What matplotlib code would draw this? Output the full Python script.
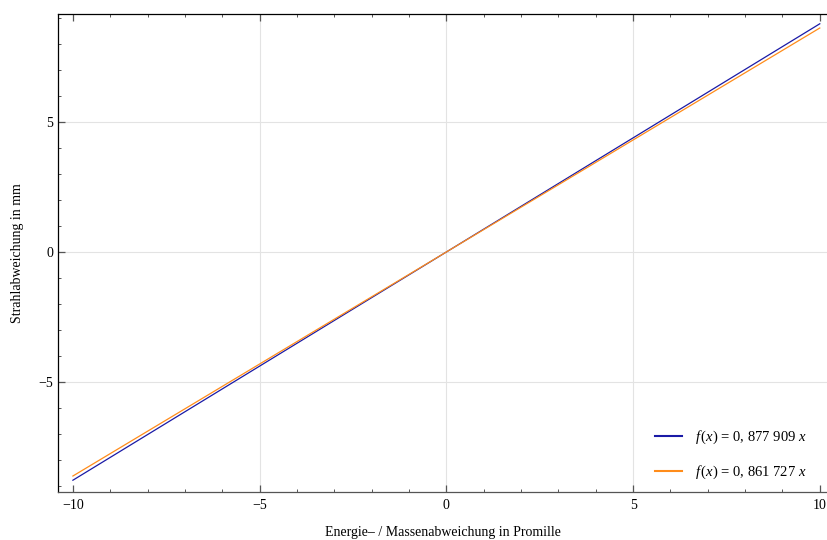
import numpy as np
import matplotlib
matplotlib.use("Agg")
import matplotlib.pyplot as plt
from matplotlib.ticker import MultipleLocator, FuncFormatter

plt.rcParams["font.family"] = ["Liberation Serif", "DejaVu Serif"]
plt.rcParams["mathtext.fontset"] = "custom"
plt.rcParams["mathtext.rm"] = "Liberation Serif"
plt.rcParams["mathtext.it"] = "Liberation Serif:italic"

# fit slopes
slopes = [0.877909, 0.861727]
labels = [r"$f\,(x)$ = 0, 877 909 $x$", r"$f\,(x)$ = 0, 861 727 $x$"]
colors = ["#1a1aa6", "#ff8c1a"]
x_range = [-10, 10]

fig = plt.figure(figsize=(8.28, 5.4), dpi=100)
ax = fig.add_axes([0.070, 0.089, 0.930, 0.885])

x = np.array(x_range, dtype=float)
for s, lab, c in zip(slopes, labels, colors):
    ax.plot(x, s * x, color=c, linewidth=0.9, label=lab)

for v in [-5, 0, 5]:
    ax.axvline(v, color="#e3e3e3", linewidth=0.8, zorder=0)
    ax.axhline(v, color="#e3e3e3", linewidth=0.8, zorder=0)

ax.set_xlim(-10.40, 10.22)
ax.set_ylim(-9.23, 9.154)

ax.xaxis.set_major_locator(MultipleLocator(5))
ax.xaxis.set_minor_locator(MultipleLocator(1))
ax.yaxis.set_major_locator(MultipleLocator(5))
ax.yaxis.set_minor_locator(MultipleLocator(1))
fmt = FuncFormatter(lambda v, p: f"{int(round(v))}".replace("-", "\u2212"))
ax.xaxis.set_major_formatter(fmt)
ax.yaxis.set_major_formatter(fmt)

ax.tick_params(which="both", direction="in", top=True, right=False,
               labelsize=10, color="#555555")
ax.tick_params(which="major", length=5, width=0.9)
ax.tick_params(which="minor", length=2.5, width=0.7)
ax.tick_params(axis="x", pad=5)

ax.spines["right"].set_visible(False)
ax.spines["top"].set_color("black")
ax.spines["left"].set_color("black")
ax.spines["bottom"].set_color("#555555")
for sp in ax.spines.values():
    sp.set_linewidth(0.9)

ax.set_xlabel("Energie\u2013 / Massenabweichung in Promille", fontsize=10, labelpad=10)
ax.set_ylabel("Strahlabweichung in mm", fontsize=10, labelpad=10)

leg = ax.legend(loc="lower right", bbox_to_anchor=(0.99, -0.005), frameon=False,
                fontsize=10.5, handlelength=1.9, labelspacing=1.2,
                handletextpad=0.9)
for h in leg.get_lines():
    h.set_linewidth(1.5)

fig.savefig("out.png", dpi=100)
